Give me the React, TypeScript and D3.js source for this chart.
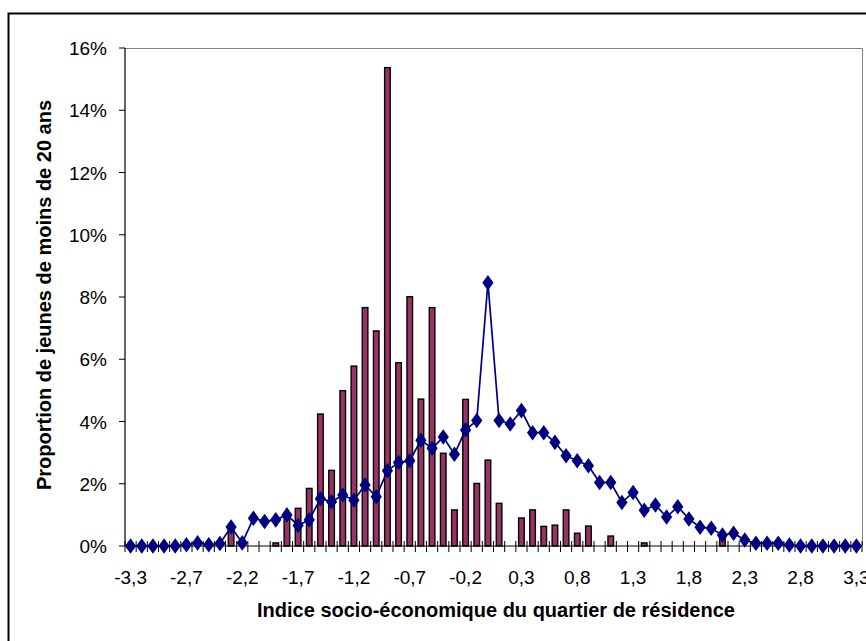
import { useEffect, useRef } from 'react'
import * as d3 from 'd3'

// categories of the socio-economic index (one per bar)
const categories = [
  '-3,3', '-3,1', '-3,0', '-2,9', '-2,8', '-2,7', '-2,6', '-2,5', '-2,4', '-2,3',
  '-2,2', '-2,1', '-2,0', '-1,9', '-1,8', '-1,7', '-1,6', '-1,5', '-1,4', '-1,3',
  '-1,2', '-1,1', '-1,0', '-0,9', '-0,8', '-0,7', '-0,6', '-0,5', '-0,4', '-0,3',
  '-0,2', '-0,1', '0,0', '0,1', '0,2', '0,3', '0,4', '0,5', '0,6', '0,7',
  '0,8', '0,9', '1,0', '1,1', '1,2', '1,3', '1,4', '1,5', '1,6', '1,7',
  '1,8', '1,9', '2,0', '2,1', '2,2', '2,3', '2,4', '2,5', '2,6', '2,7',
  '2,8', '2,9', '3,0', '3,1', '3,2', '3,3',
]

const tickLabels = ['-3,3', '-2,7', '-2,2', '-1,7', '-1,2', '-0,7', '-0,2', '0,3', '0,8', '1,3', '1,8', '2,3', '2,8', '3,3']

// bars (%)
const barValues = [
  0, 0, 0, 0, 0, 0, 0, 0, 0, 0.5,
  0, 0, 0, 0.1, 0.94, 1.21, 1.85, 4.24, 2.43, 4.99,
  5.78, 7.66, 6.91, 15.37, 5.89, 8.01, 4.72, 7.66, 2.98, 1.16,
  4.71, 2.01, 2.76, 1.37, 0, 0.9, 1.16, 0.63, 0.67, 1.16,
  0.41, 0.64, 0, 0.32, 0, 0, 0.1, 0, 0, 0,
  0, 0, 0, 0.3, 0, 0, 0, 0, 0, 0,
  0, 0, 0, 0, 0, 0,
]

// line (%)
const lineValues = [
  0, 0, 0, 0, 0, 0.04, 0.1, 0.04, 0.08, 0.61,
  0.1, 0.89, 0.79, 0.84, 1.0, 0.66, 0.84, 1.52, 1.42, 1.64,
  1.47, 1.96, 1.58, 2.42, 2.68, 2.74, 3.4, 3.14, 3.5, 2.95,
  3.73, 4.03, 8.46, 4.03, 3.92, 4.35, 3.64, 3.64, 3.33, 2.9,
  2.74, 2.58, 2.04, 2.04, 1.4, 1.72, 1.15, 1.32, 0.93, 1.26,
  0.87, 0.6, 0.57, 0.35, 0.41, 0.19, 0.09, 0.09, 0.09, 0.03,
  0, 0, 0, 0, 0, 0,
]

const yTicks = [0, 2, 4, 6, 8, 10, 12, 14, 16]

const App = () => {
  const svgRef = useRef<SVGSVGElement>(null)

  useEffect(() => {
    if (!svgRef.current) return
    const svg = d3.select(svgRef.current)
    svg.selectAll('*').remove()

    const left = 125, right = 862, top = 48, bottom = 546
    const font = '"Liberation Sans", Arial, sans-serif'

    const x = d3.scaleBand<string>().domain(categories).range([left, right]).padding(0)
    const y = d3.scaleLinear().domain([0, 16]).range([bottom, top])

    // chart border
    svg.append('rect')
      .attr('x', 8.5).attr('y', 13.5)
      .attr('width', 900).attr('height', 700)
      .style('fill', '#fff').style('stroke', '#000').style('stroke-width', 2)

    // plot area frame
    svg.append('path')
      .attr('d', `M${left},${top + 0.5}H${right + 0.5}V${bottom}`)
      .style('fill', 'none').style('stroke', '#808080').style('stroke-width', 1)

    // bars
    const bw = x.bandwidth() * 0.5
    svg.selectAll('.bar')
      .data(barValues.map((v, i) => ({ v, c: categories[i] })).filter(d => d.v > 0))
      .enter().append('rect')
      .attr('class', 'bar')
      .attr('x', d => (x(d.c) as number) + x.bandwidth() / 2 - bw / 2)
      .attr('y', d => y(d.v))
      .attr('width', bw)
      .attr('height', d => bottom - y(d.v))
      .style('fill', '#993366')
      .style('stroke', '#000')
      .style('stroke-width', 1.4)

    // axes
    svg.append('line')
      .attr('x1', left).attr('x2', left).attr('y1', top).attr('y2', bottom)
      .style('stroke', '#000').style('stroke-width', 1.2)
    svg.append('line')
      .attr('x1', left).attr('x2', right).attr('y1', bottom).attr('y2', bottom)
      .style('stroke', '#000').style('stroke-width', 1.2)

    svg.selectAll('.ytick')
      .data(yTicks)
      .enter().append('line')
      .attr('x1', left - 6).attr('x2', left)
      .attr('y1', d => y(d)).attr('y2', d => y(d))
      .style('stroke', '#000')

    svg.selectAll('.ylabel')
      .data(yTicks)
      .enter().append('text')
      .attr('x', left - 18)
      .attr('y', d => y(d) + 7)
      .attr('text-anchor', 'end')
      .style('font-family', font).style('font-size', '19px')
      .text(d => `${d}%`)

    const boundaries = d3.range(categories.length + 1).map(i => left + i * x.bandwidth())
    svg.selectAll('.xtick')
      .data(boundaries)
      .enter().append('line')
      .attr('x1', d => d).attr('x2', d => d)
      .attr('y1', bottom - 5).attr('y2', bottom + 6)
      .style('stroke', '#000')

    svg.selectAll('.xlabel')
      .data(tickLabels)
      .enter().append('text')
      .attr('x', d => (x(categories[tickLabels.indexOf(d) * 5]) as number) + x.bandwidth() / 2)
      .attr('y', 584)
      .attr('text-anchor', 'middle')
      .style('font-family', font).style('font-size', '19px')
      .text(d => d)

    // line series
    const line = d3.line<number>()
      .x((_, i) => (x(categories[i]) as number) + x.bandwidth() / 2)
      .y(d => y(d))
    svg.append('path')
      .datum(lineValues)
      .attr('d', line)
      .style('fill', 'none')
      .style('stroke', '#000080')
      .style('stroke-width', 1.7)

    const sym = d3.symbol().type(d3.symbolDiamond).size(70)
    svg.selectAll('.marker')
      .data(lineValues)
      .enter().append('path')
      .attr('d', sym)
      .attr('transform', (d, i) => `translate(${(x(categories[i]) as number) + x.bandwidth() / 2},${y(d)}) scale(1.25,1)`)
      .style('fill', '#000080')

    // titles
    svg.append('text')
      .attr('x', 496).attr('y', 617)
      .attr('text-anchor', 'middle')
      .style('font-family', font).style('font-size', '20px').style('font-weight', 'bold')
      .text('Indice socio-économique du quartier de résidence')

    svg.append('text')
      .attr('transform', `translate(51,${(top + bottom) / 2 - 2}) rotate(-90)`)
      .attr('text-anchor', 'middle')
      .style('font-family', font).style('font-size', '20px').style('font-weight', 'bold')
      .text('Proportion de jeunes de moins de 20 ans')
  }, [])

  return (
    <svg
      ref={svgRef}
      width={866}
      height={641}
      style={{ position: 'absolute', left: 0, top: 0, background: '#fff' }}
    />
  )
}

export default App
